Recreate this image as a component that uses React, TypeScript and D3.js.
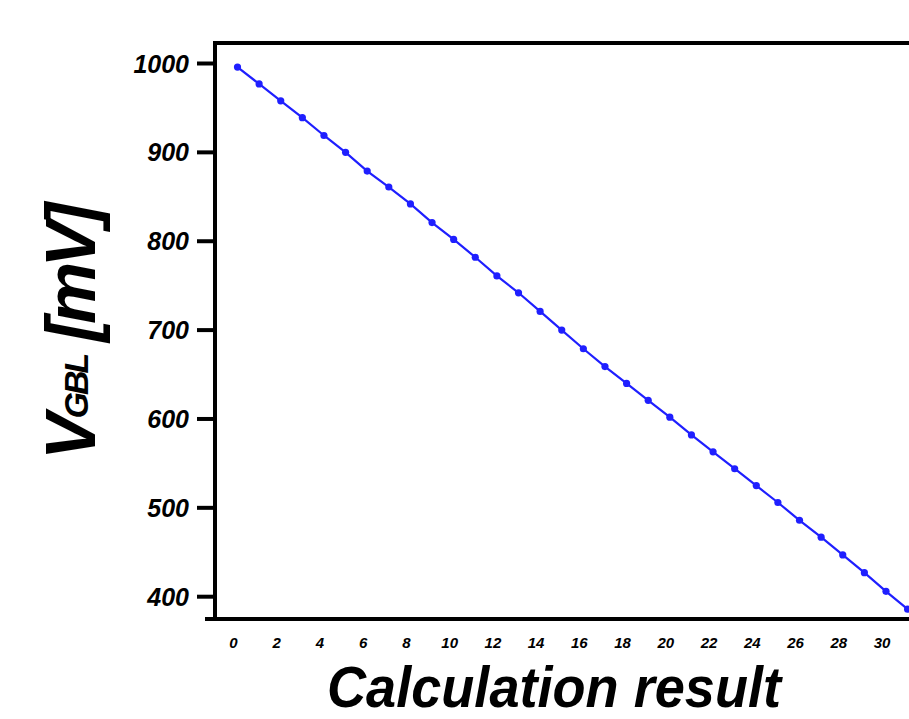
import React from 'react';
import * as d3 from 'd3';

// calculation result (x) vs global bit-line voltage in mV (y)
const steps = d3.range(0, 32);
const vgbl = [
  996, 977, 958, 939, 919, 900, 879, 861, 842, 821,
  802, 782, 761, 742, 721, 700, 679, 659, 640, 621,
  602, 582, 563, 544, 525, 506, 486, 467, 447, 427,
  406, 386,
];
const yTicks = [400, 500, 600, 700, 800, 900, 1000];
const xTicks = d3.range(0, 31, 2);

const W = 909;
const H = 719;
const FONT = '"Liberation Sans", Arial, Helvetica, sans-serif';

const App = () => {
  const left = 215;
  const top = 43;
  const bottom = 619;

  const x = d3.scaleLinear().domain([0, 31]).range([237.5, 907.6]);
  const y = d3.scaleLinear().domain([400, 1000]).range([596.7, 63.5]);

  const line = d3.line<number>()
    .x((d, i) => x(steps[i]))
    .y(d => y(d));

  return (
    <div>
      <style>{'body{margin:0}'}</style>
      <svg width={W} height={H} style={{ display: 'block', background: '#fff' }}>
        {/* frame */}
        <line x1={left} x2={W} y1={top} y2={top} stroke="#000" strokeWidth={4} />
        <line x1={left} x2={left} y1={top - 2} y2={bottom} stroke="#000" strokeWidth={4} />
        <line x1={205} x2={W} y1={bottom} y2={bottom} stroke="#000" strokeWidth={4} />

        {/* y ticks */}
        {yTicks.map(t => (
          <g key={t}>
            <line x1={197} x2={left} y1={y(t)} y2={y(t)} stroke="#000" strokeWidth={4} />
            <text
              x={189}
              y={y(t) + 9}
              textAnchor="end"
              fontFamily={FONT}
              fontSize={25}
              fontWeight="bold"
              fontStyle="italic"
            >
              {t}
            </text>
          </g>
        ))}

        {/* x tick labels */}
        {xTicks.map(t => (
          <text
            key={t}
            x={x(t) - 4}
            y={648}
            textAnchor="middle"
            fontFamily={FONT}
            fontSize={15}
            fontWeight="bold"
            fontStyle="italic"
          >
            {t}
          </text>
        ))}

        {/* series */}
        <path d={line(vgbl) || ''} fill="none" stroke="#1f1fff" strokeWidth={2.2} />
        {vgbl.map((v, i) => (
          <circle key={i} cx={x(steps[i])} cy={y(v)} r={3.6} fill="#1f1fff" />
        ))}

        {/* axis titles */}
        <text
          x={327}
          y={707}
          fontFamily={FONT}
          fontSize={57}
          fontWeight="bold"
          fontStyle="italic"
          textLength={454}
          lengthAdjust="spacingAndGlyphs"
        >
          Calculation result
        </text>
        <text
          transform="translate(95,334) rotate(-90)"
          textAnchor="middle"
          fontFamily={FONT}
          fontSize={70}
          fontWeight="bold"
          fontStyle="italic"
          letterSpacing={-5.5}
        >
          <tspan>V</tspan>
          <tspan fontSize={34} dy={-7} letterSpacing={-3}>GBL</tspan>
          <tspan dy={7}> [mV]</tspan>
        </text>
      </svg>
    </div>
  );
};

export default App;
